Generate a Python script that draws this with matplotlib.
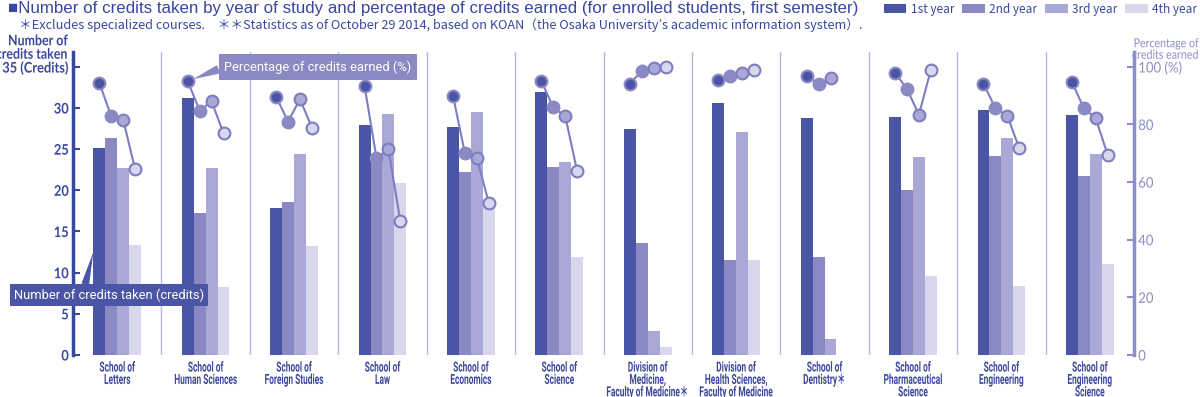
import matplotlib
matplotlib.use('Agg')
import matplotlib.pyplot as plt
from matplotlib.patheffects import AbstractPathEffect
from matplotlib.transforms import Affine2D
import numpy as np

# data
schools = ['School of\nLetters', 'School of\nHuman Sciences', 'School of\nForeign Studies',
           'School of\nLaw', 'School of\nEconomics', 'School of\nScience',
           'Division of\nMedicine,\nFaculty of Medicine＊',
           'Division of\nHealth Sciences,\nFaculty of Medicine',
           'School of\nDentistry＊', 'School of\nPharmaceutical\nScience',
           'School of\nEngineering', 'School of\nEngineering\nScience']
years = ['1st year', '2nd year', '3rd year', '4th year']

credits_1st = [25.1, 31.2, 17.8, 27.9, 27.7, 32.0, 27.4, 30.6, 28.8, 28.9, 29.8, 29.2]
credits_2nd = [26.3, 17.3, 18.6, 23.7, 22.2, 22.8, 13.6, 11.5, 11.9, 20.0, 24.2, 21.8]
credits_3rd = [22.7, 22.7, 24.4, 29.3, 29.5, 23.5, 2.9, 27.1, 2.0, 24.0, 26.3, 24.4]
credits_4th = [13.4, 8.2, 13.2, 20.9, 19.0, 11.9, 1.0, 11.5, np.nan, 9.6, 8.4, 11.1]

pct_1st = [94.5, 95.0, 89.6, 93.3, 90.0, 95.0, 94.2, 95.4, 96.8, 98.0, 94.2, 94.8]
pct_2nd = [82.8, 84.8, 81.0, 68.4, 70.0, 85.9, 98.4, 96.8, 94.2, 92.3, 85.6, 85.6]
pct_3rd = [81.7, 88.0, 88.8, 71.4, 68.4, 82.9, 99.6, 97.9, 96.0, 83.4, 83.0, 82.1]
pct_4th = [64.4, 76.9, 78.8, 46.4, 52.8, 63.7, 99.8, 98.9, np.nan, 99.0, 71.7, 69.4]

credits = [credits_1st, credits_2nd, credits_3rd, credits_4th]
pcts = np.array([pct_1st, pct_2nd, pct_3rd, pct_4th])

colors = ['#4b55a5', '#8b89c4', '#a9a8d6', '#d8d7eb']
dark = '#3a479f'
light = '#8e8cc9'
cond = ['Roboto', 'Noto Sans CJK JP', 'DejaVu Sans']
human = ['Lato', 'Noto Sans CJK JP', 'DejaVu Sans']


class Narrow(AbstractPathEffect):
    # squeeze text horizontally (the reference uses a condensed face)
    def __init__(self, sx=0.75, anchor=0.5):
        super().__init__()
        self.sx = sx
        self.anchor = anchor

    def draw_path(self, renderer, gc, tpath, affine, rgbFace=None):
        ext = tpath.get_extents()
        piv = ext.x0 + self.anchor * (ext.x1 - ext.x0)
        tr = Affine2D().translate(-piv, 0).scale(self.sx, 1).translate(piv, 0) + affine
        renderer.draw_path(gc, tpath, tr, rgbFace)


fig = plt.figure(figsize=(12, 3.97), dpi=100)
ax = fig.add_axes([73 / 1200, 1 - 355 / 397, (1134 - 73) / 1200, (355 - 52) / 397])
ax2 = ax.twinx()

x = np.arange(len(schools))
w = 0.135
offs = (np.arange(4) - 1.5) * w

bars = []
for i in range(4):
    b = ax.bar(x + offs[i], credits[i], w, color=colors[i], zorder=2, label=years[i])
    bars.append(b)

for k in range(1, len(schools)):
    ax.axvline(k - 0.5, color='#b8b6de', lw=1, zorder=1)

ax.set_xlim(-0.5, len(schools) - 0.5)
ax.set_ylim(0, 36.8)
ax2.set_ylim(0, 36.8 / 0.35)

# percentage dots
edge = ['#8b89c4', '#8b89c4', '#7f7dc0', '#7f7dc0']
for j in range(len(schools)):
    ax2.plot(x[j] + offs, pcts[:, j], color='#7f7dc0', lw=1.5, zorder=3)
for i in range(4):
    ax2.plot(x + offs[i], pcts[i], ls='none', marker='o', ms=8.5, mfc=colors[i],
             mec=edge[i], mew=1.5, zorder=4)

# left axis
for s in ['top', 'bottom', 'right']:
    ax.spines[s].set_visible(False)
ax.spines['left'].set_color(dark)
ax.spines['left'].set_linewidth(2.5)
ax.set_yticks(range(0, 36, 5))
ax.set_yticklabels(['0', '5', '10', '15', '20', '25', '30', '35 (Credits)'])
ax.tick_params(axis='y', direction='in', length=5, width=1.5, color=dark,
               labelcolor=dark, labelsize=10.5, pad=3)
for lbl in ax.get_yticklabels():
    lbl.set_fontfamily(human)
    lbl.set_fontweight('bold')
    lbl.set_path_effects([Narrow(0.88, 1.0)])
ax.set_xticks(x)
ax.set_xticklabels(schools, fontsize=10, color=dark, linespacing=0.85)
ax.tick_params(axis='x', length=0, pad=4)
for lbl in ax.get_xticklabels():
    lbl.set_fontfamily(cond)
    lbl.set_fontweight('bold')
    lbl.set_path_effects([Narrow(0.6, 0.5)])

# right axis
for s in ['top', 'bottom', 'left']:
    ax2.spines[s].set_visible(False)
ax2.spines['right'].set_color(light)
ax2.spines['right'].set_linewidth(2.5)
ax2.set_yticks(range(0, 101, 20))
ax2.set_yticklabels(['0', '20', '40', '60', '80', '100 (%)'])
ax2.tick_params(axis='y', direction='in', length=5, width=1.5, color=light,
                labelcolor=light, labelsize=10.5, pad=3)
for lbl in ax2.get_yticklabels():
    lbl.set_fontfamily(human)
    lbl.set_path_effects([Narrow(0.9, 0.0)])

fig.text(68 / 1200, 1 - 48 / 397, 'Number of\ncredits taken', ha='right', va='center',
         fontsize=10.5, color=dark, fontweight='bold', family=human, linespacing=0.95,
         path_effects=[Narrow(0.85, 1.0)])
fig.text(1199 / 1200, 1 - 49 / 397, 'Percentage of\ncredits earned', ha='right', va='center',
         fontsize=9, color=light, family=human, multialignment='right', linespacing=0.95,
         path_effects=[Narrow(0.85, 1.0)])

# title, note, legend
fig.text(8 / 1200, 1 - 8 / 397,
         '■Number of credits taken by year of study and percentage of credits earned '
         '(for enrolled students, first semester)',
         fontsize=12.2, color=dark, va='center', family=['Liberation Sans', 'DejaVu Sans'])
fig.text(19 / 1200, 1 - 25 / 397,
         '＊Excludes specialized courses.　＊＊Statistics as of October 29 2014, based on KOAN'
         '（the Osaka University’s academic information system）.',
         fontsize=9.15, color=dark, va='center', family=['Noto Sans CJK JP', 'DejaVu Sans'])
leg = ax.legend(handles=bars, labels=years, ncol=4, loc='center left',
                bbox_to_anchor=(884 / 1200, 1 - 9 / 397), bbox_transform=fig.transFigure,
                frameon=False, handlelength=1.9, handleheight=0.9, handletextpad=0.35,
                columnspacing=0.7, borderpad=0, borderaxespad=0,
                prop={'family': 'Noto Sans CJK JP', 'size': 8.5})
for t in leg.get_texts():
    t.set_color(dark)

# callout boxes
ax2.annotate('Percentage of credits earned (%)', xy=(x[1] + offs[0], pct_1st[1]),
             xycoords='data', xytext=(318, 397 - 67), textcoords='figure pixels',
             ha='center', va='center', color='white', fontsize=9.3, family=cond,
             bbox=dict(boxstyle='square,pad=0.45', fc='#8b89c4', ec='none'),
             arrowprops=dict(arrowstyle='wedge,tail_width=0.7', fc='#8b89c4', ec='none',
                             relpos=(0, 0.5), shrinkA=0, shrinkB=4),
             zorder=6)
ax2.annotate('Number of credits taken (credits)', xy=(x[0] + offs[0] - w / 2, 12.5 / 0.35),
             xycoords='data', xytext=(109, 397 - 295), textcoords='figure pixels',
             ha='center', va='center', color='white', fontsize=9.3, family=cond,
             bbox=dict(boxstyle='square,pad=0.3', fc='#4b55a5', ec='none'),
             arrowprops=dict(arrowstyle='wedge,tail_width=0.6', fc='#4b55a5', ec='none',
                             relpos=(0.37, 1), shrinkA=0, shrinkB=0),
             zorder=6)

fig.savefig('out.png', dpi=100)
